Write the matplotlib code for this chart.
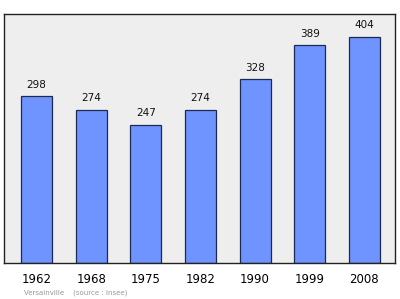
import matplotlib
matplotlib.use("Agg")
import matplotlib.pyplot as plt

years = ["1962", "1968", "1975", "1982", "1990", "1999", "2008"]
population = [298, 274, 247, 274, 328, 389, 404]

fig = plt.figure(figsize=(4.0, 2.99), dpi=100)
ax = fig.add_axes([4 / 400, 1 - 263 / 299, 391 / 400, 249 / 299])
ax.set_facecolor("#eeeeee")

x = range(len(years))
ax.bar(x, population, width=0.567, color="#7094ff", edgecolor="#1a2a50", linewidth=0.9, zorder=2)
for i, v in enumerate(population):
    ax.text(i, v + 12, str(v), ha="center", va="bottom", fontsize=7.5, color="#111111")

ax.set_xlim(-0.594, 6.56)
ax.set_ylim(0, 445)
ax.set_yticks([])
ax.set_xticks(list(x))
ax.set_xticklabels(years, fontsize=8.5)
ax.tick_params(axis="x", length=0, pad=7)
for s in ax.spines.values():
    s.set_color("#222222")
    s.set_linewidth(1.0)

fig.text(24 / 400, 1 - 293 / 299, "Versainville    (source : Insee)", fontsize=5, color="#999999", va="center")

fig.savefig("out.png", dpi=100)
